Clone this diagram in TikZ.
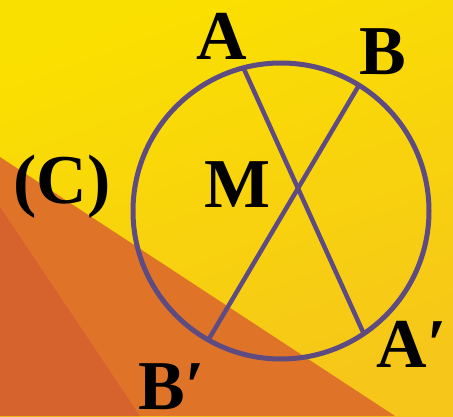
\documentclass[tikz,border=0pt]{standalone}
\usepackage{fontspec}
\setmainfont{Liberation Serif}
\usepackage{tikz}
\usetikzlibrary{positioning, calc}
\definecolor{bgYellow}{HTML}{FAE000}
\definecolor{bgGold}{HTML}{F6C61A}
\definecolor{bgOrange}{HTML}{DF7429}
\definecolor{bgRust}{HTML}{D6632D}
\definecolor{circPurple}{HTML}{5D4B82}

\begin{document}
\begin{tikzpicture}[
  x=1pt, y=1pt,
  circ/.style={draw=circPurple, line width=5pt},
  chord/.style={draw=circPurple, line width=4.5pt, line cap=butt},
  lbl/.style={font=\fontsize{70}{70}\selectfont\bfseries, anchor=base, inner sep=0pt},
]
\useasboundingbox (0,0) rectangle (453,416);

% Background
\shade[top color=bgYellow, bottom color=bgGold, shading angle=20] (0,0) rectangle (453,416);
\fill[bgOrange] (0,259) -- (395,0) -- (0,0) -- cycle;
\fill[bgRust] (0,209) -- (140,0) -- (0,0) -- cycle;

% Circle and chords
\coordinate (O) at (281,205);
\draw[circ] (O) circle[radius=148];
\coordinate (A)  at ($(O)+(104.7:148)$);
\coordinate (B)  at ($(O)+(58.2:148)$);
\coordinate (A') at ($(O)+(-56:148)$);
\coordinate (B') at ($(O)+(-119.4:148)$);
\draw[chord] (A) -- (A');
\draw[chord] (B) -- (B');

% Labels
\node[lbl] (lA)  at (222,356) {A};
\node[lbl] (lB)  at (383,341) {B};
\node[lbl] (lM)  at (238,208) {M};
\node[lbl] (lC)  at (62,213)  {(C)};
\node[lbl] (lA') at (412,49)  {A′};
\node[lbl] (lB') at (172,7)   {B′};

\end{tikzpicture}
\end{document}
